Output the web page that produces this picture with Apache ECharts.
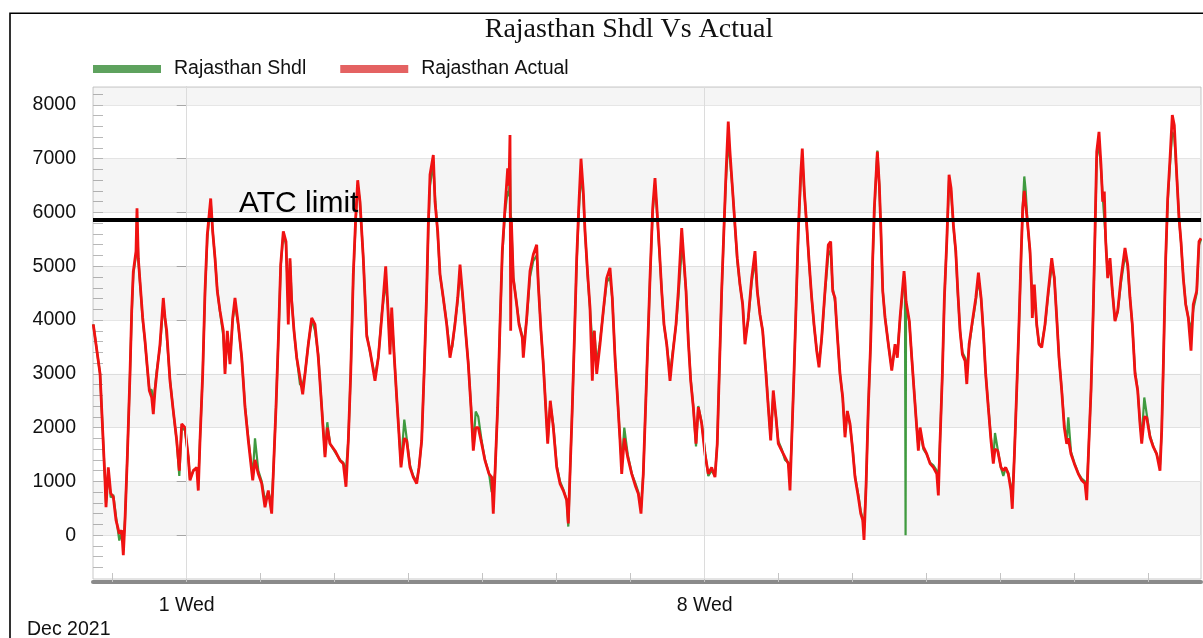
<!DOCTYPE html>
<html>
<head>
<meta charset="utf-8">
<script src="https://cdn.jsdelivr.net/npm/echarts@6/dist/echarts.min.js"></script>
<style>html,body{margin:0;padding:0;background:#fff;}#chart{width:1203px;height:638px;}</style>
</head>
<body>
<div id="chart"></div>
<script>
// time in hours relative to 2021-12-01 00:00
const hours = [
-30.3,-28.1,-27.05,-26.5,-26.17,-25.43,-24.65,-23.8,-22.93,-21.86,
-21.08,-20.56,-20.01,-19.26,-18.39,-17.84,-17.32,-16.44,-16.12,-15.7,
-15.15,-14.27,-13.52,-12.78,-12.13,-11.35,-10.83,-10.28,-9.73,-8.66,
-7.59,-7.04,-6.49,-5.42,-4.35,-3.24,-2.4,-1.62,-0.55,0.52,
1.07,2.14,3.24,3.76,4.31,5.19,5.94,6.68,7.78,8.43,
9.18,9.92,10.8,11.87,12.42,13.17,14.04,14.92,15.66,16.73,
17.84,18.91,19.98,21.41,22.15,23.22,24.32,25.39,26.46,27.56,
28.08,28.96,29.71,30.49,31.33,32.21,32.95,33.5,34.05,34.8,
35.68,36.75,37.62,38.37,39.44,40.54,41.61,42.68,43.78,44.85,
45.6,46.48,48.1,49.72,50.79,51.66,52.41,53.19,54.03,54.81,
55.46,56.2,57.27,58.38,59.45,61.07,62.14,63.24,64.54,65.19,
65.93,66.48,67.33,68.11,68.85,69.5,70.57,71.35,72.42,73.49,
74.59,75.34,76.21,77.06,77.84,78.36,78.91,79.98,80.53,81.4,
82.15,83.22,84.32,85.39,86.14,87.01,87.89,88.64,89.38,90.26,
91.33,92.2,92.95,93.73,94.57,95.67,96.74,98.04,98.91,99.43,
99.98,100.85,101.61,102.35,103.23,104.1,104.52,104.85,105.08,105.27,
105.92,107.02,107.77,108.84,109.17,110.27,111.34,112.41,113.51,114.03,
114.9,115.65,116.43,117.08,117.92,118.9,120.0,121.07,122.14,123.24,
123.76,124.31,125.06,125.71,126.49,127.23,127.88,128.63,129.18,130.05,
130.8,131.55,132.19,132.97,134.04,135.11,136.21,137.28,138.03,138.91,
139.78,140.53,141.08,141.92,143.03,144.33,145.62,146.47,147.34,148.08,
148.64,149.38,150.26,151.13,151.88,152.43,153.27,154.05,154.8,155.68,
156.75,157.62,158.69,159.44,160.54,161.06,161.94,162.68,163.46,164.3,
165.18,165.92,167.02,168.09,169.16,170.26,171.33,172.07,172.72,173.5,
174.25,174.89,175.64,176.19,177.07,177.81,178.56,179.44,180.31,181.06,
182.13,183.24,184.31,185.05,185.93,186.8,187.87,188.62,189.4,190.24,
191.12,191.86,192.97,194.04,195.11,195.66,196.21,196.96,197.61,198.35,
199.13,199.65,200.3,201.08,201.92,202.7,203.45,204.32,205.07,205.94,
207.01,208.08,208.86,209.51,210.26,211.0,211.88,212.76,213.5,214.25,
215.13,216.0,216.75,217.82,218.6,219.25,219.67,220.32,221.06,221.84,
222.49,223.01,223.99,224.63,225.09,225.74,226.49,227.56,228.66,229.73,
230.48,231.35,232.65,232.95,233.15,233.3,234.37,235.15,235.9,236.77,
237.29,237.85,238.92,240.02,241.09,242.16,243.27,243.78,244.33,245.08,
245.73,246.51,247.25,247.9,248.65,249.43,250.08,250.82,251.57,252.45,
253.0,253.75,254.82,255.92,256.77,257.64,258.36,259.13,259.97,260.85,
261.6,262.15,263.02,264.09,264.84,265.62,266.46,267.34,267.76,268.41,
269.19,269.93,270.58,271.14,271.65,272.11,272.76,273.51,274.06,274.25,
274.9,275.68,276.43,277.3,278.37,279.44,280.55,281.39,282.17,282.91,
283.79,284.63,285.41,285.93,286.8,287.87,289.17,290.27,291.34,291.89,
292.41,293.29,294.03,294.59,295.14,295.88,296.53,297.08,297.6,298.06,
298.71,299.45,300.2,301.07,301.95,303.02,304.31,305.19,305.94,306.68,
307.56,308.43,309.18,309.73,310.57,311.35,312.42,313.49,314.59,315.66,
316.21,316.73,317.51,318.16,318.91,319.65,320.3,321.08,321.83,322.47,
323.22,324.0,324.84,325.72,326.46,327.57,328.31,328.96
];
const actual = [
3920,3000,1700,1020,520,1260,780,710,280,30,
90,-370,280,1450,3000,4170,4900,5280,6080,5150,
4720,4040,3610,3120,2690,2560,2250,2690,3000,3550,
4410,4040,3800,2870,2310,1760,1200,2070,2000,1450,
1020,1200,1260,830,1760,3000,4540,5590,6260,5650,
5150,4540,4170,3800,3000,3800,3180,4040,4410,3920,
3300,2380,1760,1020,1400,1140,960,520,830,400,
1140,2380,3610,5030,5650,5460,3920,5150,4350,3800,
3300,2930,2620,3000,3550,4040,3920,3300,2380,1450,
2000,1700,1570,1390,1330,900,1760,3000,4850,5900,
6600,6200,5150,3700,3430,2870,3300,4040,5000,4290,
3360,4230,3300,2560,1880,1260,1800,1760,1260,1080,
960,1260,1760,3120,4540,5770,6700,7070,6200,5650,
4850,4410,3920,3300,3550,3920,4410,5030,4540,3920,
3180,2380,1570,2000,2000,1700,1390,1140,1080,400,
1140,2380,3920,5280,6080,6820,6500,7440,3800,5900,
4780,4290,3920,3670,3300,4040,4910,5220,5400,4660,
3800,3180,2380,1700,2500,2000,1260,960,830,650,
220,1140,2380,3610,5150,6200,7000,6390,5650,4850,
4230,2870,3800,3000,3550,4170,4780,4970,4410,3300,
2500,1760,1140,1800,1450,1140,900,770,400,1140,
2070,3300,4780,6080,6640,6140,5340,4540,3920,3550,
2870,3360,3920,4540,5710,5280,4540,3610,2870,2380,
1700,2380,2070,1510,1140,1260,1080,1700,3000,4540,
5710,6700,7690,7130,6390,5770,5150,4660,4290,3550,
4040,4780,5280,4540,4100,3800,3000,2380,1760,2690,
2190,1700,1570,1450,1330,830,1760,3000,4230,5650,
6700,7190,6390,5770,5030,4410,3920,3430,3120,3670,
4540,5400,5460,4540,4410,3730,3000,2560,1820,2310,
2070,1570,1080,710,400,280,-90,900,2380,3610,
5150,6080,7130,6510,5770,4540,4040,3550,3060,3550,
3300,4040,4910,4700,4500,4350,3980,3300,2690,2000,
1570,2000,1640,1510,1330,1260,1140,740,1760,3000,
4410,5460,6700,6450,5770,5280,4540,3800,3360,3240,
2810,3550,3980,4410,4880,4410,3800,3000,2380,1760,
1330,1600,1570,1260,1200,1260,1140,830,490,1450,
2690,3920,5150,6080,6400,6390,5770,5280,4540,4040,
4660,3920,3550,3490,3920,4540,5150,4780,4040,3300,
2690,2000,1700,1800,1510,1330,1140,1020,960,650,
1450,2690,4230,5650,7130,7500,6880,6200,6390,5460,
4780,5150,4540,3980,4170,4780,5340,5030,4410,3920,
3000,2690,2070,1700,2200,2190,1820,1640,1510,1200,
1940,3120,5150,6260,7000,7810,7620,6700,5900,5460,
4780,4290,4040,3430,4290,4540,5460,5520
];
const shdl = [
3920,3000,1700,1020,600,1200,700,750,350,-100,
60,-150,300,1450,3000,4100,4850,5200,5900,5150,
4700,4000,3600,3100,2700,2700,2400,2750,3050,3500,
4300,4050,3700,2900,2300,1750,1100,2000,1950,1450,
1050,1200,1250,1000,1760,3000,4500,5500,6200,5650,
5150,4550,4150,3700,3100,3700,3250,4000,4300,3900,
3300,2400,1800,1100,1800,1200,1000,650,800,600,
1140,2380,3600,5000,5600,5400,4300,5100,4400,3800,
3300,2800,2800,3000,3550,4000,3800,3350,2400,1500,
2100,1700,1550,1400,1350,1200,1760,3000,4800,5850,
6500,6200,5150,3750,3400,2950,3300,4100,4700,4300,
3500,4100,3300,2550,1900,1300,2150,1800,1300,1100,
1000,1250,1760,3100,4500,5700,6500,6900,6300,5600,
4850,4400,3950,3400,3500,3950,4350,4900,4500,3900,
3200,2400,1650,2300,2200,1750,1400,1150,800,1000,
1140,2380,3900,5200,6000,6400,6300,6800,6000,5800,
4800,4300,3950,3700,3500,4000,4800,5100,5200,4700,
3800,3200,2400,1750,2450,2050,1300,1000,850,650,
160,1140,2380,3600,5100,6100,6700,6300,5650,4800,
4200,3600,3800,3200,3600,4150,4700,4800,4400,3350,
2500,1800,1300,2000,1500,1150,950,800,500,1140,
2070,3300,4750,6000,6500,6100,5300,4550,3900,3550,
3000,3400,3900,4400,5300,5200,4550,3650,2900,2400,
1650,2400,2100,1550,1100,1200,1100,1700,3000,4500,
5700,6600,7300,7000,6400,5750,5100,4650,4300,3650,
4000,4700,5100,4550,4100,3800,3050,2400,1800,2600,
2200,1750,1600,1400,1350,1100,1760,3000,4200,5600,
6600,7000,6400,5750,5000,4400,3900,3450,3200,3650,
4500,5200,5300,4600,4350,3750,3000,2550,1900,2300,
2050,1600,1100,750,450,300,100,900,2380,3600,
5100,6000,7150,6500,5750,4550,4050,3550,3100,3500,
3400,4000,4800,4650,0,4300,3950,3300,2700,2000,
1650,1950,1600,1500,1350,1300,1200,1000,1760,3000,
4400,5450,6600,6400,5750,5250,4500,3800,3400,3300,
3100,3500,3950,4350,4750,4400,3800,3000,2400,1800,
1400,1900,1600,1250,1100,1250,1150,900,700,1450,
2690,3900,5100,6100,6670,6400,5750,5250,4600,4200,
4500,3900,3550,3550,3900,4500,5000,4800,4050,3300,
2700,2050,1750,2190,1550,1350,1150,1050,1000,850,
1450,2690,4200,5600,7000,7300,6800,6300,6300,5500,
4800,5050,4550,4000,4150,4700,5200,5000,4400,3900,
3050,2700,2100,1800,2560,2250,1850,1650,1500,1300,
1940,3100,5100,6200,6900,7500,7400,6700,5900,5450,
4800,4300,4050,3800,4200,4500,5400,5500
];
const seriesNames = ['Rajasthan Shdl', 'Rajasthan Actual'];
const yTickValues = [0, 1000, 2000, 3000, 4000, 5000, 6000, 7000, 8000];
const xLabelValues = [0, 168];
const xLabelTexts = ['1 Wed', '8 Wed'];
const atcLimit = 5865;
const greyBands = [[0, 1000], [2000, 3000], [4000, 5000], [6000, 7000], [8000, 8333]];

const X_MIN = -30.39, X_MAX = 328.96, Y_MIN = -815, Y_MAX = 8333;
const dayTicks = [];
for (let h = -24; h <= 312; h += 24) dayTicks.push(h);
const minorTicks = [];
for (let v = -600; v <= 8200; v += 200) minorTicks.push(v);

const shdlData = hours.map((h, i) => [h, shdl[i]]);
const actualData = hours.map((h, i) => [h, actual[i]]);

const FONT = 'Liberation Sans';
const chart = echarts.init(document.getElementById('chart'), null, {renderer: 'canvas'});
chart.setOption({
  animation: false,
  backgroundColor: '#ffffff',
  title: {
    text: 'Rajasthan Shdl Vs Actual',
    left: 624, top: 11, textAlign: 'center',
    textStyle: {fontFamily: 'Liberation Serif', fontSize: 28, fontWeight: 'normal', color: '#111'}
  },
  legend: {
    left: 93, top: 59, padding: 0, icon: 'rect', itemWidth: 68, itemHeight: 8, itemGap: 34,
    textStyle: {fontFamily: FONT, fontSize: 19.5, color: '#111', padding: [0, 0, 0, 8]},
    data: [
      {name: seriesNames[0], itemStyle: {color: '#5ea25e'}},
      {name: seriesNames[1], itemStyle: {color: '#e46262'}}
    ]
  },
  grid: {left: 93, top: 87, right: 2, bottom: 59, show: true, borderColor: '#c8c8c8', borderWidth: 1, backgroundColor: 'transparent', containLabel: false},
  xAxis: [{
    type: 'value', min: X_MIN, max: X_MAX, position: 'bottom', offset: 3,
    axisLine: {show: true, onZero: false, lineStyle: {color: '#8a8a8a', width: 4}},
    axisTick: {show: true, inside: true, length: 9, customValues: dayTicks, lineStyle: {color: '#c4c4c4', width: 1}},
    axisLabel: {show: true, customValues: xLabelValues, margin: 14, fontFamily: FONT, fontSize: 19.5, color: '#111',
      formatter: function (v) { const i = xLabelValues.indexOf(Math.round(v)); return i >= 0 ? xLabelTexts[i] : ''; }},
    splitLine: {show: false}
  }],
  yAxis: [{
    type: 'value', min: Y_MIN, max: Y_MAX, position: 'left',
    axisLine: {show: true, lineStyle: {color: '#c8c8c8', width: 1}},
    axisTick: {show: true, inside: false, length: 10, customValues: yTickValues, lineStyle: {color: '#a8a8a8'}},
    axisLabel: {show: true, customValues: yTickValues, margin: 17, fontFamily: FONT, fontSize: 19.5, color: '#111',
      formatter: function (v) { return String(Math.round(v)); }},
    splitLine: {show: true, lineStyle: {color: '#e6e6e6', width: 1}}
  }, {
    type: 'value', min: Y_MIN, max: Y_MAX, position: 'left',
    axisLine: {show: false},
    axisTick: {show: true, inside: true, length: 10, customValues: minorTicks, lineStyle: {color: '#b8b8b8'}},
    axisLabel: {show: false},
    splitLine: {show: false}
  }],
  graphic: [
    {type: 'rect', silent: true, z: 100, shape: {x: 10, y: 13.3, width: 1300, height: 700}, style: {fill: null, stroke: '#000', lineWidth: 1.6}},
    {type: 'text', silent: true, left: 27, top: 620, style: {text: 'Dec 2021', font: '19.5px "Liberation Sans"', fill: '#111'}}
  ],
  series: [
    {
      name: 'bands', type: 'line', data: [], z: 1, silent: true,
      markArea: {silent: true, itemStyle: {color: 'rgba(0,0,0,0.04)'},
        data: greyBands.map(b => [{yAxis: b[0]}, {yAxis: b[1]}])},
      markLine: {silent: true, symbol: ['none', 'none'], label: {show: false},
        lineStyle: {color: '#dcdcdc', width: 1, type: 'solid'},
        data: xLabelValues.map(v => ({xAxis: v}))}
    },
    {
      name: seriesNames[0], type: 'line', data: shdlData, showSymbol: false, symbol: 'none', z: 2,
      lineStyle: {color: '#3f9a3f', width: 2.2}, itemStyle: {color: '#5ea25e'}
    },
    {
      name: seriesNames[1], type: 'line', data: actualData, showSymbol: false, symbol: 'none', z: 3,
      lineStyle: {color: '#f01212', width: 2.8}, itemStyle: {color: '#e46262'}
    },
    {
      name: 'atc', type: 'line', data: [], z: 5, silent: true,
      markLine: {silent: true, symbol: ['none', 'none'],
        lineStyle: {color: '#000', width: 4, type: 'solid'},
        label: {show: true, position: 'insideStartTop', formatter: 'ATC limit', distance: 1,
          padding: [0, 0, 0, 145], fontFamily: FONT, fontSize: 30, color: '#000'},
        data: [{yAxis: atcLimit}]}
    }
  ]
});
</script>
</body>
</html>
